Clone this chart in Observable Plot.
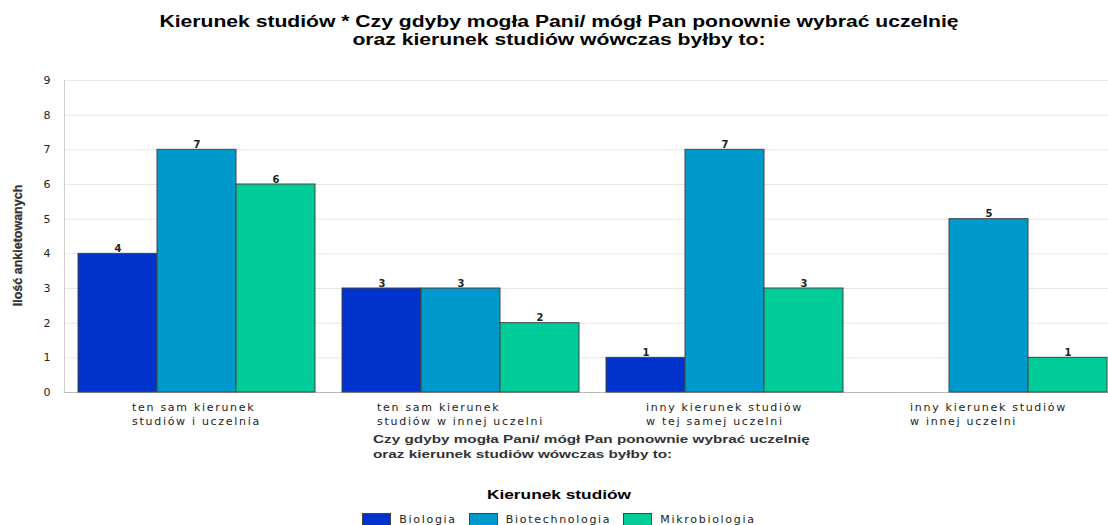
<!DOCTYPE html>
<html>
<head>
<meta charset="utf-8">
<script src="https://cdn.jsdelivr.net/npm/d3@7"></script>
<script src="https://cdn.jsdelivr.net/npm/@observablehq/plot@0.6"></script>
<style>
  html, body { margin: 0; padding: 0; background: #fff; overflow: hidden; width: 1108px; height: 525px; }
  #title { font-family: "Liberation Sans", Arial, sans-serif; font-weight: bold; font-size: 16px; line-height: 18px; text-align: center; padding-top: 13px; padding-left: 10px; color: #000; transform: scaleX(1.32); transform-origin: 559px 0; }
  #chart svg { display: block; overflow: visible; }
  #chart [aria-label="fx-axis tick label"] text { letter-spacing: 1.7px; }
  #xlabel { font-family: "Liberation Sans", Arial, sans-serif; font-weight: bold; font-size: 11.5px; line-height: 15px; color: #333; margin-left: 373px; transform: scaleX(1.33); transform-origin: 0 0; white-space: nowrap; }
  #legend-title { font-family: "Liberation Sans", Arial, sans-serif; font-weight: bold; font-size: 13.5px; text-align: center; margin-top: 25px; padding-left: 10px; color: #000; transform: scaleX(1.28); transform-origin: 559px 0; }
  #legend { display: flex; justify-content: center; align-items: center; margin-top: 11px; padding-left: 10px; font-family: "DejaVu Sans", Verdana, sans-serif; font-size: 11px; letter-spacing: 1.7px; color: #222; }
  #legend .item { display: flex; align-items: center; margin: 0 6px; }
  #legend .sw { width: 27px; height: 11px; border: 1px solid #444; margin-right: 8px; }
</style>
</head>
<body>
<div id="title">Kierunek studiów * Czy gdyby mogła Pani/ mógł Pan ponownie wybrać uczelnię<br>oraz kierunek studiów wówczas byłby to:</div>
<div id="chart"></div>
<div id="xlabel">Czy gdyby mogła Pani/ mógł Pan ponownie wybrać uczelnię<br>oraz kierunek studiów wówczas byłby to:</div>
<div id="legend-title">Kierunek studiów</div>
<div id="legend"></div>
<script>
const categories = [
  "ten sam kierunek\nstudiów i uczelnia",
  "ten sam kierunek\nstudiów w innej uczelni",
  "inny kierunek studiów\nw tej samej uczelni",
  "inny kierunek studiów\nw innej uczelni"
];
const series = ["Biologia", "Biotechnologia", "Mikrobiologia"];
const biologia = [4, 3, 1, 0];
const biotechnologia = [7, 3, 7, 5];
const mikrobiologia = [6, 2, 3, 1];
const colors = ["#0033cc", "#0099cc", "#00cc99"];
const yTicks = [0, 1, 2, 3, 4, 5, 6, 7, 8, 9];
const yLabel = "Ilość ankietowanych";

const valuesBySeries = [biologia, biotechnologia, mikrobiologia];
const data = [];
categories.forEach((c, i) => {
  series.forEach((s, j) => {
    data.push({category: c, series: s, value: valuesBySeries[j][i]});
  });
});
const shown = data.filter(d => d.value > 0);

const plot = Plot.plot({
  width: 1108,
  height: 383,
  marginTop: 31,
  marginLeft: 62,
  marginRight: 0,
  marginBottom: 40,
  style: {fontFamily: "DejaVu Sans, Verdana, sans-serif", fontSize: "11px", color: "#222", background: "#fff"},
  fx: {domain: categories, range: [62, 1121], padding: 0, label: null, axis: null},
  x: {domain: series, paddingInner: 0, paddingOuter: 0.167, axis: null},
  y: {domain: [0, 9], axis: null},
  color: {domain: series, range: colors},
  marks: [
    Plot.ruleY(yTicks, {stroke: "#e6e6e6", strokeWidth: 1}),
    Plot.ruleY([0], {stroke: "#b8b8b8", strokeWidth: 1}),
    Plot.frame({anchor: "left", facetAnchor: "left", stroke: "#cfcfcf"}),
    Plot.barY(shown, {fx: "category", x: "series", y: "value", fill: "series", stroke: "#444", strokeWidth: 1}),
    Plot.text(shown, {fx: "category", x: "series", y: "value", text: d => String(d.value), lineAnchor: "bottom", dy: -2, fontWeight: "bold", fontSize: 10, fill: "#222"}),
    Plot.axisY({ticks: yTicks, tickSize: 0, tickPadding: 14, tickFormat: d => String(d), label: null, fill: "#222"}),
    Plot.text([yLabel], {text: d => d, frameAnchor: "left", facetAnchor: "left", textAnchor: "middle", lineAnchor: "middle", rotate: -90, dx: -47, dy: 9, fontWeight: "bold", fontSize: 12.5, fontFamily: "Liberation Sans, Arial, sans-serif", fill: "#333", stroke: "#333", strokeWidth: 0.3}),
    Plot.axisFx({anchor: "bottom", tickSize: 0, tickPadding: 9, lineHeight: 1.27, label: null, tickFormat: d => d, fontSize: 11, fill: "#222"})
  ]
});
document.getElementById("chart").appendChild(plot);

// left-align the two lines of each category label as a centred block
document.querySelectorAll('#chart [aria-label="fx-axis tick label"] text').forEach(t => {
  const spans = Array.from(t.querySelectorAll("tspan"));
  if (!spans.length) return;
  const w = Math.max(...spans.map(s => s.getComputedTextLength()));
  t.setAttribute("text-anchor", "start");
  spans.forEach(s => s.setAttribute("x", -w / 2));
});

const legend = document.getElementById("legend");
series.forEach((s, j) => {
  const item = document.createElement("div");
  item.className = "item";
  const sw = document.createElement("div");
  sw.className = "sw";
  sw.style.background = colors[j];
  const lab = document.createElement("span");
  lab.textContent = s;
  item.appendChild(sw);
  item.appendChild(lab);
  legend.appendChild(item);
});
</script>
</body>
</html>
